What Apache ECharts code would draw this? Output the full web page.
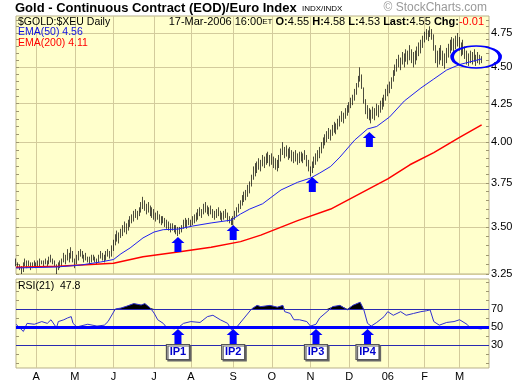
<!DOCTYPE html>
<html><head><meta charset="utf-8">
<script src="https://cdn.jsdelivr.net/npm/echarts@6/dist/echarts.min.js"></script>
<style>html,body{margin:0;padding:0;background:#fff}#c{width:520px;height:384px}</style>
</head><body><div id="c"></div>
<script>
// ---- daily bars (trading days from 2005-03-16 to 2006-03-17) ----
const lows = [
3.29,3.28,3.27,3.25,3.26,3.29,3.28,3.29,3.27,3.28,3.29,
3.28,3.29,3.29,3.30,3.29,3.30,3.29,3.30,3.31,3.30,3.29,
3.25,3.27,3.28,3.29,3.31,3.30,3.32,3.31,3.33,3.31,3.28,
3.30,3.32,3.34,3.33,3.31,3.32,3.31,3.30,3.31,3.32,3.31,3.30,3.31,3.33,3.32,3.31,3.32,3.34,3.33,3.34,
3.37,3.40,3.42,3.41,3.44,3.45,3.47,3.46,3.48,3.50,
3.52,3.53,3.55,3.54,3.56,3.58,3.60,3.59,3.57,3.58,3.56,3.55,3.54,
3.53,3.54,3.52,3.51,3.52,3.50,3.49,3.48,3.47,3.48,3.47,3.46,
3.45,3.46,3.47,3.49,3.50,3.49,3.51,3.50,3.51,3.52,
3.53,3.54,3.56,3.55,3.57,3.58,3.57,3.56,3.57,3.55,3.54,3.55,3.56,3.54,3.53,3.54,3.55,3.53,3.52,3.51,3.51,3.54,
3.56,3.58,3.60,3.62,3.64,3.65,3.67,3.69,3.73,3.77,3.79,
3.81,3.83,3.82,3.85,3.84,3.86,3.87,3.85,3.86,3.84,3.83,3.82,3.84,3.88,3.92,
3.90,3.91,3.89,3.90,3.88,3.87,3.88,3.86,3.87,3.88,3.87,3.89,3.85,3.82,3.79,3.81,3.84,3.86,3.88,3.90,
3.93,3.96,3.98,4.00,4.02,4.01,4.04,4.06,4.05,4.08,4.10,4.13,4.12,4.15,4.17,4.19,4.22,4.24,4.27,4.31,
4.36,4.40,4.35,4.25,4.18,4.15,4.14,4.12,4.15,4.14,4.17,4.16,4.19,4.21,4.23,
4.27,4.30,4.32,4.35,4.40,4.44,4.47,4.50,4.48,4.52,4.50,4.54,4.52,4.55,4.53,4.50,4.52,4.55,4.58,4.60,
4.64,4.68,4.70,4.69,4.72,4.70,4.62,4.53,4.50,4.52,4.55,4.51,4.49,
4.53,4.57,4.60,4.62,4.60,4.63,4.65,4.62,4.58,4.59,4.56,4.52,4.51,4.53,4.52,4.54,4.51,4.53,4.52,4.53
];
const highs = [
3.33,3.31,3.30,3.29,3.31,3.33,3.32,3.32,3.31,3.31,3.32,
3.31,3.32,3.33,3.32,3.32,3.33,3.32,3.34,3.35,3.33,3.32,
3.30,3.31,3.32,3.33,3.36,3.35,3.38,3.36,3.39,3.37,3.33,
3.35,3.37,3.38,3.37,3.35,3.36,3.34,3.34,3.35,3.35,3.34,3.33,3.35,3.37,3.36,3.35,3.37,3.38,3.37,3.40,
3.43,3.46,3.48,3.47,3.49,3.51,3.53,3.52,3.54,3.56,
3.57,3.59,3.60,3.59,3.61,3.64,3.67,3.65,3.63,3.64,3.62,3.61,3.60,
3.58,3.59,3.57,3.56,3.56,3.55,3.54,3.53,3.52,3.52,3.51,3.51,
3.50,3.50,3.51,3.54,3.55,3.54,3.55,3.54,3.56,3.57,
3.58,3.60,3.61,3.60,3.63,3.64,3.62,3.61,3.62,3.60,3.59,3.60,3.61,3.59,3.58,3.59,3.60,3.58,3.56,3.55,3.56,3.59,
3.61,3.63,3.65,3.68,3.70,3.71,3.74,3.76,3.80,3.85,3.87,
3.88,3.90,3.89,3.92,3.91,3.93,3.94,3.92,3.93,3.91,3.90,3.89,3.92,3.96,4.00,
3.97,3.98,3.96,3.97,3.95,3.94,3.95,3.93,3.94,3.94,3.93,3.95,3.92,3.89,3.85,3.88,3.91,3.93,3.95,3.97,
4.00,4.03,4.05,4.07,4.09,4.08,4.11,4.13,4.12,4.15,4.17,4.20,4.19,4.22,4.24,4.26,4.29,4.31,4.35,4.39,
4.44,4.50,4.45,4.36,4.28,4.24,4.22,4.21,4.23,4.22,4.25,4.24,4.27,4.29,4.31,
4.35,4.38,4.40,4.43,4.48,4.52,4.56,4.59,4.57,4.61,4.60,4.63,4.62,4.66,4.63,4.61,4.62,4.65,4.68,4.70,
4.73,4.76,4.78,4.77,4.80,4.78,4.74,4.66,4.62,4.64,4.66,4.62,4.60,
4.64,4.67,4.70,4.72,4.71,4.73,4.75,4.72,4.68,4.70,4.65,4.62,4.60,4.62,4.61,4.63,4.59,4.61,4.59,4.58
];
// [trading-day index, value]
const ema50 = [[0,3.281],[22,3.286],[35,3.296],[46,3.312],[53,3.325],[57,3.355],[62,3.386],[69,3.44],[75,3.472],[80,3.485],[88,3.488],[96,3.505],[106,3.522],[117,3.538],[122,3.572],[127,3.60],[134,3.63],[144,3.71],[153,3.755],[160,3.78],[165,3.81],[171,3.85],[176,3.907],[184,4.013],[191,4.084],[196,4.10],[203,4.162],[211,4.268],[220,4.356],[227,4.418],[234,4.481],[241,4.52],[250,4.55],[253,4.56]];
const ema200 = [[0,3.285],[23,3.29],[53,3.305],[69,3.34],[88,3.365],[106,3.39],[122,3.42],[133,3.455],[153,3.535],[171,3.60],[202,3.775],[214,3.86],[227,3.935],[241,4.03],[253,4.11]];
const rsi21 = [[0,53],[1,52],[4,45],[6,54],[10,53],[14,56],[17,54],[19,58],[22,49],[23,56],[26,58],[28,60],[30,61.5],[31,54],[33,50],[39,53],[44,51],[48,52],[50,56],[54,70],[57,71],[60,73],[64,76],[68,74.4],[70,76],[73,71],[75,65.5],[77,58],[80,54],[82,49],[86,48],[88,49],[91,54],[95,56],[100,55],[104,61.5],[107,63],[111,58],[115,54],[117,47],[120,50],[124,60],[128,70],[131,74],[133,72.6],[138,74],[142,72],[145,74],[146,67],[149,65],[151,58],[154,58],[158,56],[160,51],[163,53],[165,60],[169,67],[172,72.6],[176,74],[180,69],[183,74],[187,77.5],[189,69],[191,54],[193,51],[196,55],[200,61.5],[202,67],[205,63],[209,67],[212,63],[216,65],[220,67],[223,68],[225,69],[227,56],[230,52],[234,55],[238,56],[241,58],[245,53],[247,48.5],[250,48.5],[253,47.8]];
const priceTicks = [3.25,3.5,3.75,4.0,4.25,4.5,4.75];
const priceMinorTicks = [3.25,3.3,3.35,3.4,3.45,3.5,3.55,3.6,3.65,3.7,3.75,3.8,3.85,3.9,3.95,4.0,4.05,4.1,4.15,4.2,4.25,4.3,4.35,4.4,4.45,4.5,4.55,4.6,4.65,4.7,4.75,4.8,4.85];
const rsiTicks = [30,50,70];
const rsiMinorTicks = [10,20,30,40,50,60,70,80,90,100];
const rsiLevels = [70,50,30];
const arrowPricePts = [[88,3.445],[118,3.511],[161,3.786],[192,4.064]];
const ipIdx = [88,118,163,191];
const ipNames = ['IP1','IP2','IP3','IP4'];
const ellipsePt = [250,4.574];
const holidays = ['2005-03-25','2005-05-30','2005-07-04','2005-09-05','2005-11-24','2005-12-26','2006-01-02','2006-01-16','2006-02-20'];
const padDays = 4;
const monthLetters = ['J','F','M','A','M','J','J','A','S','O','N','D'];

function makeDates(){
  const out=[]; const d=new Date(Date.UTC(2005,2,16));
  while(out.length < lows.length + padDays){
    const wd=d.getUTCDay(); const s=d.toISOString().slice(0,10);
    if(wd!==0 && wd!==6 && holidays.indexOf(s)<0) out.push(s);
    d.setUTCDate(d.getUTCDate()+1);
  }
  return out;
}
const dates = makeDates();
const monthStart = new Set();
for(let i=1;i<dates.length;i++){ if(dates[i].slice(5,7)!==dates[i-1].slice(5,7)) monthStart.add(i); }
const isMS = (i)=>monthStart.has(i);
function monthLabel(v){ const m=+v.slice(5,7); return m===1 ? v.slice(2,4) : monthLetters[m-1]; }

const gridColor='#D3CB9C', borderC='#B9B18A', bg='#FFFFCC';
const FF='"Liberation Sans", Arial, sans-serif';
const arrowPath='path://M6.5,0 L13,6 L10,6 L10,15 L3,15 L3,6 L0,6 Z';

const chart = echarts.init(document.getElementById('c'), null, {renderer:'canvas'});
const tickAxis = (pos, grid, type, min, max, vals)=>({
  type, gridIndex:grid, position:pos, min, max,
  axisLine:{show:false}, axisLabel:{show:false}, splitLine:{show:false},
  axisTick:{show:true, inside:true, length:3, customValues:vals, lineStyle:{color:'#9E9670'}}
});
chart.setOption({
  animation:false,
  backgroundColor:'#fff',
  textStyle:{fontFamily:FF},
  title:[
    {text:'Gold - Continuous Contract (EOD)/Euro Index', left:15, top:1.5, padding:0, textStyle:{fontSize:13, fontWeight:'bold', color:'#000', fontFamily:FF}},
    {text:'INDX/INDX', left:302, top:4.5, padding:0, textStyle:{fontSize:8, fontWeight:'normal', color:'#000', fontFamily:FF}},
    {text:'© StockCharts.com', right:33, top:2, padding:0, textStyle:{fontSize:12, fontWeight:'normal', color:'#999', fontFamily:FF}},
    {text:'$GOLD:$XEU Daily', left:18, top:17, padding:0, textStyle:{fontSize:10.5, fontWeight:'normal', color:'#000', fontFamily:FF}},
    {text:'17-Mar-2006 16:00{s|ET} {b|O:}4.55 {b|H:}4.58 {b|L:}4.53 {b|Last:}4.55 {b|Chg:}{r|-0.01}', right:36, top:16.5, padding:0,
      textStyle:{fontSize:11, fontWeight:'normal', color:'#000', fontFamily:FF,
        rich:{s:{fontSize:8, color:'#000', fontFamily:FF}, b:{fontSize:11, fontWeight:'bold', color:'#000', fontFamily:FF}, r:{fontSize:11, color:'#FF0000', fontFamily:FF}}}},
    {text:'EMA(50) 4.56', left:18, top:26.5, padding:0, textStyle:{fontSize:10.5, fontWeight:'normal', color:'#1010E0', fontFamily:FF}},
    {text:'EMA(200) 4.11', left:18, top:38, padding:0, textStyle:{fontSize:10.5, fontWeight:'normal', color:'#FF0000', fontFamily:FF}},
    {text:'RSI(21)  47.8', left:18, top:280.5, padding:0, textStyle:{fontSize:10.5, fontWeight:'normal', color:'#000', fontFamily:FF}}
  ],
  grid:[
    {left:16, top:16, width:473, height:258, show:true, backgroundColor:bg, borderColor:borderC, borderWidth:1},
    {left:16, top:279, width:473, height:89, show:true, backgroundColor:bg, borderColor:borderC, borderWidth:1}
  ],
  xAxis:[
    {type:'category', gridIndex:0, data:dates, boundaryGap:false, axisLine:{show:false}, axisTick:{show:false}, axisLabel:{show:false},
      splitLine:{show:true, interval:isMS, lineStyle:{color:gridColor, width:1}}},
    {type:'category', gridIndex:1, data:dates, boundaryGap:false, axisLine:{show:false}, axisTick:{show:false},
      axisLabel:{show:true, interval:isMS, formatter:monthLabel, color:'#000', fontSize:11, margin:3, fontFamily:FF},
      splitLine:{show:true, interval:isMS, lineStyle:{color:gridColor, width:1}}}
  ],
  yAxis:[
    {type:'log', gridIndex:0, position:'right', min:3.25, max:4.879,
      axisLine:{show:false}, axisTick:{show:false, customValues:priceTicks},
      axisLabel:{show:true, customValues:priceTicks, formatter:(v)=>Number(v).toFixed(2), color:'#000', fontSize:11, margin:2, fontFamily:FF},
      splitLine:{show:true, lineStyle:{color:gridColor, width:1}}},
    tickAxis('right',0,'log',3.25,4.879,priceMinorTicks),
    tickAxis('left',0,'log',3.25,4.879,priceMinorTicks),
    {type:'value', gridIndex:1, position:'right', min:4.4, max:103.3,
      axisLine:{show:false}, axisTick:{show:false, customValues:rsiTicks},
      axisLabel:{show:true, customValues:rsiTicks, color:'#000', fontSize:11, margin:2, fontFamily:FF},
      splitLine:{show:false}},
    tickAxis('right',1,'value',4.4,103.3,rsiMinorTicks),
    tickAxis('left',1,'value',4.4,103.3,rsiMinorTicks)
  ],
  series:[
    {type:'candlestick', xAxisIndex:0, yAxisIndex:0, barWidth:1.2,
      data: lows.map((l,i)=>[l, highs[i], l, highs[i]]),
      itemStyle:{color:'#000', color0:'#000', borderColor:'#000', borderColor0:'#000', borderWidth:0.7}},
    {type:'line', xAxisIndex:0, yAxisIndex:0, data:ema200, symbol:'none', lineStyle:{color:'#FF0000', width:1.5}},
    {type:'line', xAxisIndex:0, yAxisIndex:0, data:ema50, symbol:'none', lineStyle:{color:'#2020F0', width:1},
      markPoint:{silent:true, label:{show:false},
        data: arrowPricePts.map(p=>({coord:p, symbol:arrowPath, symbolSize:[13,15], symbolOffset:[0,'50%'], itemStyle:{color:'#0000FF'}}))
          .concat([{coord:ellipsePt, symbol:'circle', symbolSize:[48,22], itemStyle:{color:'rgba(0,0,0,0)', borderColor:'#0000FF', borderWidth:2.5}}])}},
    {type:'line', xAxisIndex:1, yAxisIndex:3, data:rsi21.map(p=>[p[0], Math.max(p[1],70)]), symbol:'none',
      lineStyle:{width:0}, areaStyle:{origin:70, color:'#000', opacity:1}},
    {type:'line', xAxisIndex:1, yAxisIndex:3, data:rsi21, symbol:'none', lineStyle:{color:'#3030D0', width:1},
      markLine:{silent:true, symbol:'none', label:{show:false},
        data: rsiLevels.map(v=>({yAxis:v, lineStyle:{color: v===50?'#0000FF':'#2A2AB0', width: v===50?3:1, type:'solid'}}))},
      markPoint:{silent:true,
        data: ipIdx.map((ix,k)=>({coord:[ix,47.8], symbol:arrowPath, symbolSize:[13,15], symbolOffset:[0,'50%'], itemStyle:{color:'#0000FF'}, label:{show:false}}))
          .concat(ipIdx.map((ix,k)=>({coord:[ix,22.2], symbol:'rect', symbolSize:[23,15],
            itemStyle:{color:'#FFFFFF', borderColor:'#555', borderWidth:1, shadowColor:'#666', shadowOffsetX:1.5, shadowOffsetY:1.5},
            label:{show:true, position:'inside', formatter:ipNames[k], color:'#0000CC', fontWeight:'bold', fontSize:11, fontFamily:FF}})))}}
  ]
});
</script></body></html>
